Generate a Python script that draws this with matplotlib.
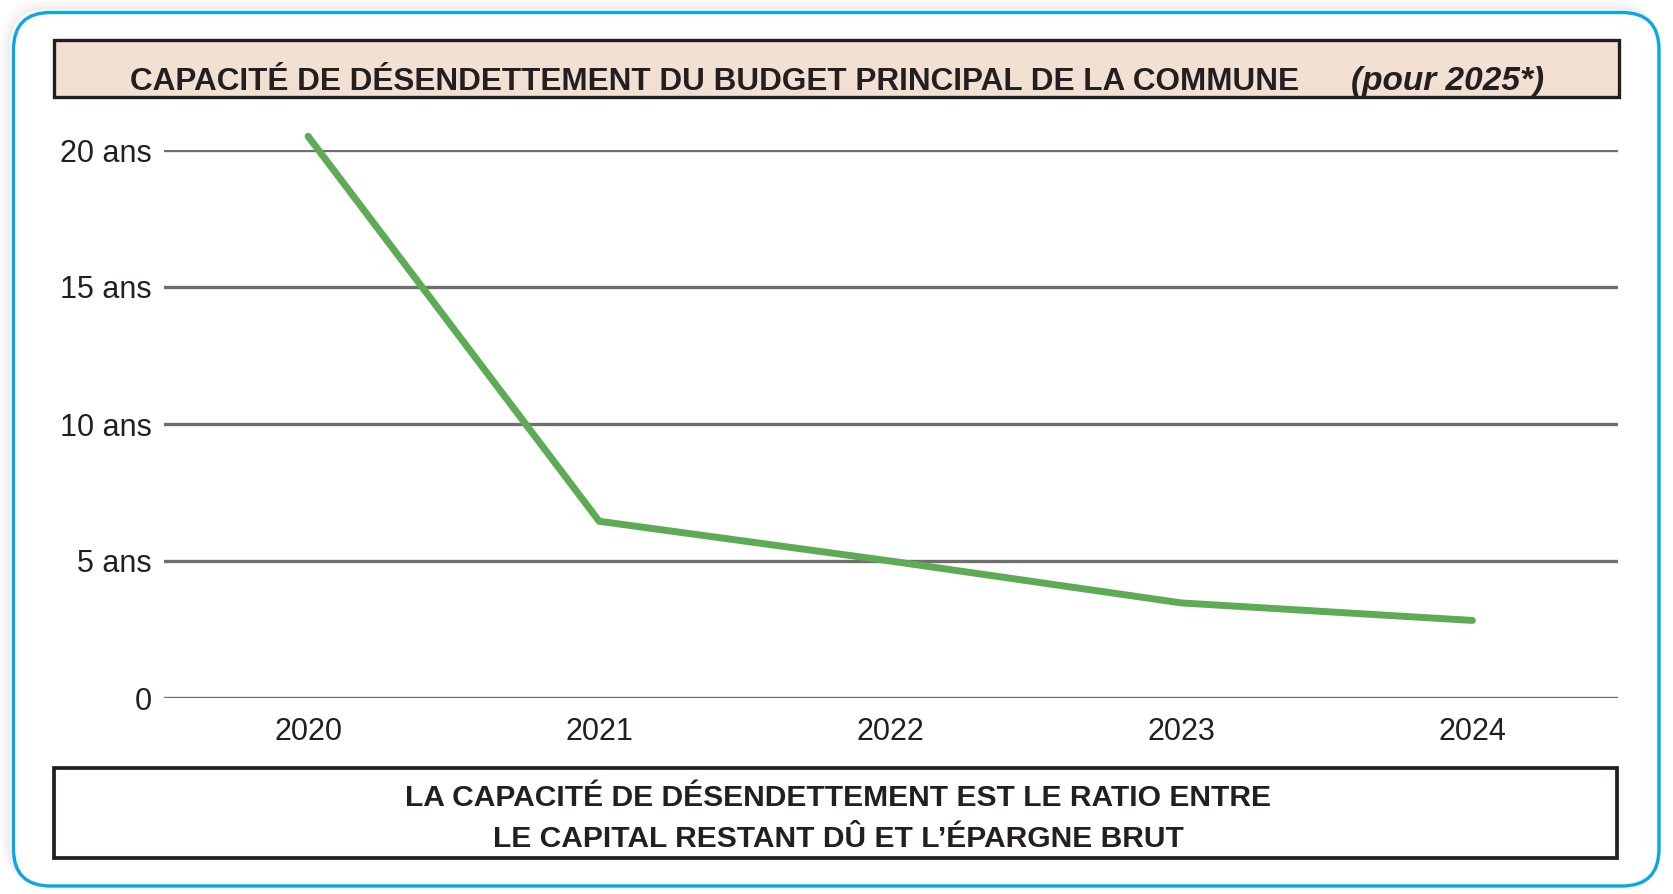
import matplotlib
matplotlib.use("Agg")
import matplotlib.pyplot as plt
from matplotlib import font_manager
from matplotlib.patches import FancyBboxPatch, Rectangle

# données
annees = ["2020", "2021", "2022", "2023", "2024"]
capacite = [20.5, 6.45, 5.0, 3.47, 2.83]  # en années
y_ticks = [0, 5, 10, 15, 20]
y_labels = ["0", "5 ans", "10 ans", "15 ans", "20 ans"]

titre = "CAPACITÉ DE DÉSENDETTEMENT DU BUDGET PRINCIPAL DE LA COMMUNE"
titre_suite = "(pour 2025*)"
note = "LA CAPACITÉ DE DÉSENDETTEMENT EST LE RATIO ENTRE\nLE CAPITAL RESTANT DÛ ET L’ÉPARGNE BRUT"

# police étroite si disponible, sinon on réduit la taille pour garder la largeur
noms = {f.name for f in font_manager.fontManager.ttflist}
if "Liberation Sans Narrow" in noms:
    ETROITE = "Liberation Sans Narrow"
    t_titre, t_suite, t_note = 27, 27, 25
else:
    ETROITE = "Liberation Sans"
    t_titre, t_suite, t_note = 22.7, 24, 21.6
plt.rcParams["font.family"] = ["Liberation Sans", "DejaVu Sans"]

NOIR = "#231f20"
BLEU = "#08a8e6"
VERT = "#5dab55"
GRIS = "#6f6f6f"

W, H = 1674, 894
fig = plt.figure(figsize=(W / 100, H / 100), dpi=100)

# calque de fond en pixels (cadres + textes)
bg = fig.add_axes([0, 0, 1, 1])
bg.set_xlim(0, W)
bg.set_ylim(H, 0)
bg.axis("off")

# ombre légère
for i, a in enumerate([0.05, 0.04, 0.03]):
    bg.add_patch(FancyBboxPatch((13 - 4 - 2 * i, 12 - 4 - 2 * i), 1646, 874,
                                boxstyle="round,pad=0,rounding_size=40",
                                facecolor="none", edgecolor="#808080",
                                linewidth=3 + 2 * i, alpha=a))

bg.add_patch(FancyBboxPatch((13.5, 12.5), 1645.5, 873.5,
                            boxstyle="round,pad=0,rounding_size=37",
                            facecolor="white", edgecolor=BLEU, linewidth=2.4))

# bandeau du titre
bg.add_patch(Rectangle((54, 40), 1565, 57, facecolor="#f2e0d2",
                       edgecolor=NOIR, linewidth=2.4))
bg.text(130, 90, titre, family=ETROITE, fontweight="bold", fontsize=t_titre,
        color=NOIR, ha="left", va="baseline")
bg.text(1544, 90, titre_suite, family=ETROITE, fontweight="bold",
        fontstyle="italic", fontsize=t_suite, color=NOIR, ha="right", va="baseline")

# encadré du bas
bg.add_patch(Rectangle((54.5, 768), 1563, 90, facecolor="white",
                       edgecolor=NOIR, linewidth=2.7))
lignes = note.split("\n")
bg.text(838, 806, lignes[0], family=ETROITE, fontweight="bold", fontsize=t_note,
        color=NOIR, ha="center", va="baseline")
bg.text(838, 847, lignes[1], family=ETROITE, fontweight="bold", fontsize=t_note,
        color=NOIR, ha="center", va="baseline")

# graphique
ax = fig.add_axes([164 / W, 1 - 698 / H, (1618 - 164) / W, (698 - 150) / H])
ax.patch.set_alpha(0)
x = list(range(len(annees)))
ax.plot(x, capacite, color=VERT, linewidth=5, solid_capstyle="round",
        solid_joinstyle="miter", clip_on=False, zorder=3)

ax.set_xlim(-0.495, 4.5)
ax.set_ylim(0, 20)
ax.set_yticks(y_ticks)
ax.set_yticklabels(y_labels)
ax.set_xticks(x)
ax.set_xticklabels(annees)
ax.tick_params(axis="both", length=0, labelsize=22, colors=NOIR)
ax.tick_params(axis="y", pad=9)
ax.tick_params(axis="x", pad=14)
for s in ax.spines.values():
    s.set_visible(False)
ax.yaxis.grid(True, color=GRIS, linewidth=2.4)
ax.set_axisbelow(True)

fig.savefig("out.png", dpi=100)
